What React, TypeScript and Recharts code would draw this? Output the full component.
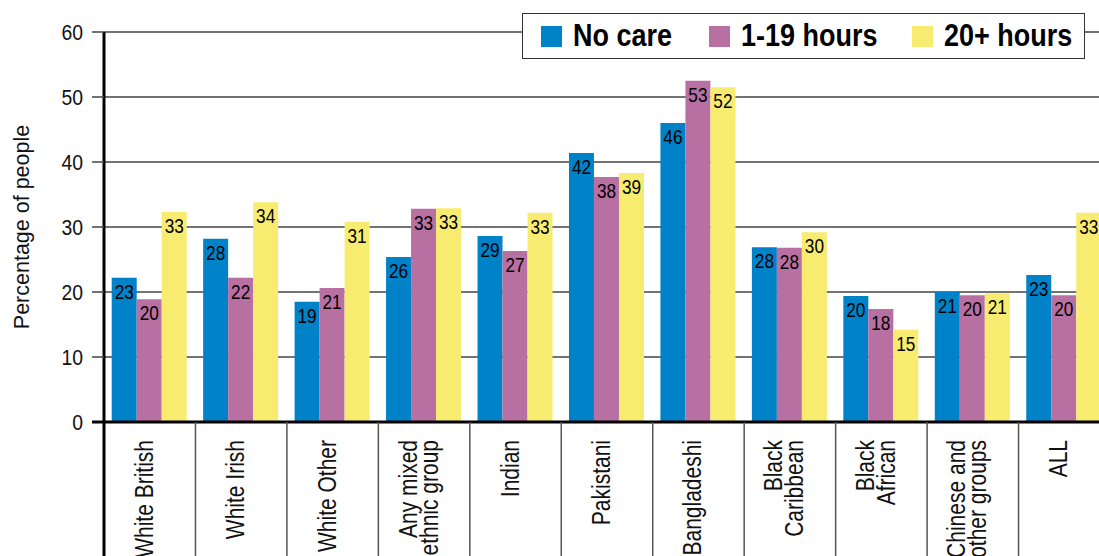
import React from 'react';
import {
  BarChart,
  Bar,
  XAxis,
  YAxis,
  CartesianGrid,
  Legend,
  LabelList
} from 'recharts';

// ethnic groups, \n splits the two-line labels
const groups = [
  'White British',
  'White Irish',
  'White Other',
  'Any mixed\nethnic group',
  'Indian',
  'Pakistani',
  'Bangladeshi',
  'Black\nCaribbean',
  'Black\nAfrican',
  'Chinese and\nother groups',
  'ALL'
];

// bar heights as drawn
const noCare = [22.2, 28.2, 18.5, 25.4, 28.6, 41.4, 46.0, 26.9, 19.4, 20.0, 22.6];
const lowCare = [18.9, 22.2, 20.6, 32.8, 26.3, 37.7, 52.5, 26.8, 17.4, 19.5, 19.5];
const highCare = [32.3, 33.8, 30.8, 32.9, 32.2, 38.3, 51.5, 29.2, 14.2, 19.8, 32.2];

// numbers printed on the bars
const noCareLabels = [23, 28, 19, 26, 29, 42, 46, 28, 20, 21, 23];
const lowCareLabels = [20, 22, 21, 33, 27, 38, 53, 28, 18, 20, 20];
const highCareLabels = [33, 34, 31, 33, 33, 39, 52, 30, 15, 21, 33];

const seriesOrder = ['noCare', 'lowCare', 'highCare'];
const yTicks = [0, 10, 20, 30, 40, 50, 60];

const chartData = groups.map((g, i) => ({
  group: g,
  noCare: noCare[i],
  lowCare: lowCare[i],
  highCare: highCare[i],
  noCareLabel: noCareLabels[i],
  lowCareLabel: lowCareLabels[i],
  highCareLabel: highCareLabels[i]
}));

const CHART_W = 1110;
const CHART_H = 556;
const Y_W = 104;
const TOP = 32;
const X_H = 134;
const BAND = (CHART_W - Y_W) / groups.length;

// no narrow font installed, so Liberation Sans gets squeezed horizontally
const FONT = "'Liberation Sans', Arial, sans-serif";

const BLUE = '#0082c8';
const PINK = '#b86fa2';
const YELLOW = '#f7ec70';

const CategoryTick = (props: any) => {
  const { x, y, payload, index } = props;
  const lines = String(payload.value).split('\n');
  const n = lines.length;
  const sepX = x - BAND / 2;
  return (
    <g>
      <line
        x1={sepX}
        x2={sepX}
        y1={y}
        y2={CHART_H}
        stroke={index === 0 ? '#000' : '#555'}
        strokeWidth={index === 0 ? 3 : 1.5}
      />
      {lines.map((line, i) => (
        <text
          key={i}
          transform={`translate(${x + (i - (n - 1) / 2) * 21 + 3}, ${y + 18}) rotate(-90) scale(0.84, 1)`}
          textAnchor="end"
          fontFamily={FONT}
          fontSize={25}
          fill="#111"
        >
          {line}
        </text>
      ))}
    </g>
  );
};

const ValueTick = (props: any) => {
  const { x, y, payload } = props;
  const lineX = x + 9;
  const isZero = payload.value === 0;
  return (
    <g>
      <line
        x1={lineX}
        x2={lineX + 12}
        y1={y}
        y2={y}
        stroke={isZero ? '#000' : '#444'}
        strokeWidth={isZero ? 3 : 1.5}
      />
      <text
        transform={`translate(${x}, ${y}) scale(0.88, 1)`}
        dy="0.36em"
        textAnchor="end"
        fontFamily={FONT}
        fontSize={22}
        fill="#111"
      >
        {payload.value}
      </text>
    </g>
  );
};

const YLabel = (props: any) => {
  const vb = props.viewBox || { y: TOP, height: CHART_H - TOP - X_H };
  const cy = vb.y + vb.height / 2;
  return (
    <text
      transform={`translate(29, ${cy}) rotate(-90)`}
      textAnchor="middle"
      fontFamily={FONT}
      fontSize={21.5}
      fill="#111"
    >
      Percentage of people
    </text>
  );
};

const BarValue = (props: any) => {
  const { x, y, width, value } = props;
  return (
    <text
      transform={`translate(${x + width / 2}, ${y + 6}) scale(0.82, 1)`}
      dy="0.72em"
      textAnchor="middle"
      fontFamily={FONT}
      fontSize={21}
      fill="#000"
    >
      {value}
    </text>
  );
};

const itemWidths = [168, 203, 160];

const LegendBox = ({ payload }: any) => {
  const items = [...(payload || [])].sort(
    (a: any, b: any) => seriesOrder.indexOf(a.dataKey) - seriesOrder.indexOf(b.dataKey)
  );
  return (
    <div
      style={{
        width: 563,
        height: 46,
        boxSizing: 'border-box',
        border: '1.5px solid #333',
        background: '#fff',
        display: 'flex',
        alignItems: 'center',
        paddingLeft: 18
      }}
    >
      {items.map((entry: any, i: number) => (
        <div key={i} style={{ display: 'flex', alignItems: 'center', width: itemWidths[i], whiteSpace: 'nowrap' }}>
          <span style={{ width: 21, height: 21, background: entry.color, marginRight: 11, display: 'inline-block', flex: 'none' }} />
          <span
            style={{
              fontFamily: FONT,
              fontWeight: 'bold',
              fontSize: 31,
              color: '#000',
              lineHeight: '44px',
              display: 'inline-block',
              transform: 'scaleX(0.87)',
              transformOrigin: 'left center'
            }}
          >
            {entry.value}
          </span>
        </div>
      ))}
    </div>
  );
};

export default function App() {
  return (
    <div style={{ position: 'absolute', left: 0, top: 0, width: 1099, height: 556, overflow: 'hidden', background: '#fff' }}>
      <BarChart
        width={CHART_W}
        height={CHART_H}
        data={chartData}
        margin={{ top: TOP, right: 0, left: 0, bottom: 0 }}
        barCategoryGap={7.7}
        barGap={0}
      >
        <CartesianGrid horizontal vertical={false} stroke="#444" strokeWidth={1.5} />
        <XAxis
          dataKey="group"
          height={X_H}
          interval={0}
          tickLine={false}
          tickSize={0}
          tickMargin={0}
          axisLine={{ stroke: '#000', strokeWidth: 3 }}
          tick={<CategoryTick />}
        />
        <YAxis
          width={Y_W}
          domain={[0, 60]}
          ticks={yTicks}
          interval={0}
          tickLine={false}
          tickSize={12}
          tickMargin={9}
          axisLine={{ stroke: '#000', strokeWidth: 3 }}
          tick={<ValueTick />}
          label={<YLabel />}
        />
        <Legend
          layout="horizontal"
          verticalAlign="middle"
          align="center"
          content={<LegendBox />}
          wrapperStyle={{ left: 522, top: 13, width: 563, height: 46 }}
        />
        <Bar dataKey="noCare" name="No care" fill={BLUE} isAnimationActive={false}>
          <LabelList dataKey="noCareLabel" content={<BarValue />} />
        </Bar>
        <Bar dataKey="lowCare" name="1-19 hours" fill={PINK} isAnimationActive={false}>
          <LabelList dataKey="lowCareLabel" content={<BarValue />} />
        </Bar>
        <Bar dataKey="highCare" name="20+ hours" fill={YELLOW} isAnimationActive={false}>
          <LabelList dataKey="highCareLabel" content={<BarValue />} />
        </Bar>
      </BarChart>
    </div>
  );
}
